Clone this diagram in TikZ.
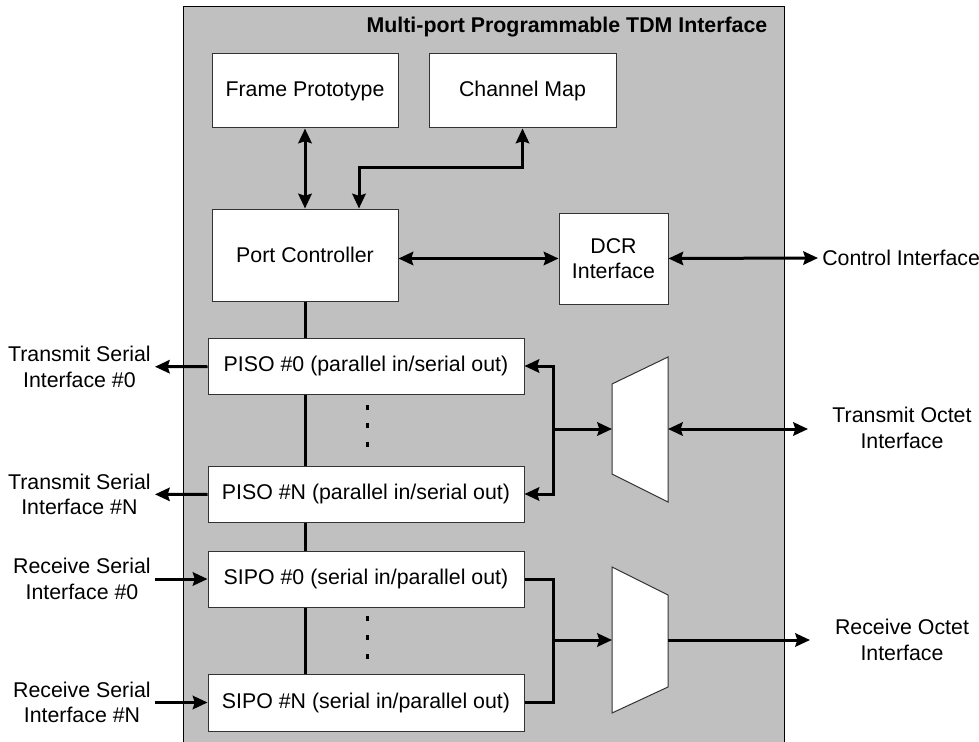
\documentclass[tikz,border=0pt]{standalone}
\usepackage{fontspec}
\setmainfont{Liberation Sans}
\usetikzlibrary{arrows.meta}
\definecolor{panelgray}{HTML}{C0C0C0}
\tikzset{
  block/.style 2 args={draw=black!80, fill=white, line width=0.75pt, inner sep=0pt,
    align=center, minimum width=#1, minimum height=#2},
  wire/.style={line width=2.25pt},
  port/.style={align=center, inner xsep=3pt, inner ysep=0pt}
}

\begin{document}
\begin{tikzpicture}[x=0.75pt, y=-0.75pt, font=\fontsize{16}{19}\selectfont,
    >={Stealth[length=11pt, width=10pt, inset=1.5pt]}]
    \useasboundingbox (0,0) rectangle (979,742);
    % Panel
    \fill[panelgray] (183,7) rectangle (784,742);
    \draw[line width=0.75pt] (183,742) -- (183,7) -- (784,7) -- (784,742);
    \node[anchor=base east, font=\fontsize{16}{19}\selectfont\bfseries] (title) at (772,33)
        {Multi-port Programmable TDM Interface};
    % Blocks
    \node[block={139.5pt}{55.5pt}] (fp) at (305,91) {Frame Prototype};
    \node[block={140.25pt}{55.5pt}] (cm) at (522.5,91) {Channel Map};
    \node[block={139.5pt}{69pt}] (pc) at (305,255) {Port Controller};
    \node[block={81.75pt}{68.25pt}] (dcr) at (613.5,258.5) {DCR\\Interface};
    \node[block={237pt}{42pt}] (piso0) at (366,366) {PISO \#0 (parallel in/serial out)};
    \node[block={237pt}{42pt}] (pisoN) at (366,494) {PISO \#N (parallel in/serial out)};
    \node[block={237pt}{42pt}] (sipo0) at (366,579) {SIPO \#0 (serial in/parallel out)};
    \node[block={237pt}{42.75pt}] (sipoN) at (366,702.5) {SIPO \#N (serial in/parallel out)};
    % Multiplexers
    \draw[draw=black!80, fill=white, line width=0.75pt] (612,384) -- (668,357) -- (668,502) -- (612,474) -- cycle;
    \draw[draw=black!80, fill=white, line width=0.75pt] (612,567) -- (668,595) -- (668,687) -- (612,713) -- cycle;
    \coordinate (txin) at (612,429);
    \coordinate (txout) at (668,429);
    \coordinate (rxin) at (612,640);
    \coordinate (rxout) at (668,640);
    \coordinate (txbus) at (553,429);
    \coordinate (rxbus) at (553,640);
    \coordinate (cmbend) at (359,167);
    % Outside labels
    \node[port, anchor=east] (tx0) at (155,367) {Transmit Serial\\Interface \#0};
    \node[port, anchor=east] (txN) at (155,494.5) {Transmit Serial\\Interface \#N};
    \node[port, anchor=east] (rx0) at (155,579) {Receive Serial\\Interface \#0};
    \node[port, anchor=east] (rxN) at (155,702.5) {Receive Serial\\Interface \#N};
    \node[port, anchor=west] (ctrl) at (818,258) {Control Interface};
    \node[port] (txoct) at (902,428) {Transmit Octet\\Interface};
    \node[port] (rxoct) at (902,640) {Receive Octet\\Interface};
    \coordinate (txend) at (808,429);
    \coordinate (rxend) at (810,640);
    % Top connectors
    \draw[wire,<->] (fp) -- (pc);
    \draw[wire,<->] (cm.south) |- (cmbend) -- (cmbend |- pc.north);
    \draw[wire,<->] (dcr.west -| pc.east) -- (dcr.west);
    \draw[wire,<->] (dcr.east) -- (ctrl.west);
    % Bus
    \foreach \a/\b in {pc/piso0, piso0/pisoN, pisoN/sipo0, sipo0/sipoN}
        \draw[wire] (pc.south |- \a.south) -- (pc.south |- \b.north);
    \foreach \y in {407,425,444,618,637,656}
        \fill (365.5,\y-2.5) rectangle ++(3,5);
    % Serial ports
    \draw[wire,->] (piso0) -- (tx0);
    \draw[wire,->] (pisoN) -- (txN);
    \draw[wire,->] (rx0) -- (sipo0);
    \draw[wire,->] (rxN) -- (sipoN);
    % Octet side
    \draw[wire,<->] (piso0.east) -| (txbus) |- (pisoN.east);
    \draw[wire,->] (txbus) -- (txin);
    \draw[wire,<->] (txout) -- (txend);
    \draw[wire] (sipo0.east) -| (rxbus) |- (sipoN.east);
    \draw[wire,->] (rxbus) -- (rxin);
    \draw[wire,->] (rxout) -- (rxend);
\end{tikzpicture}
\end{document}
